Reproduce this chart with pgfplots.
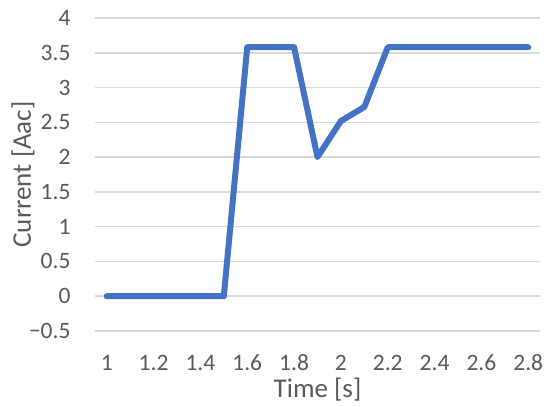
\documentclass[border=0pt]{standalone}
\usepackage{pgfplots}
\pgfplotsset{compat=1.18}
\usepackage{fontspec}
\setmainfont{Carlito}
\definecolor{lineblue}{HTML}{4472C4}
\definecolor{gridgray}{HTML}{D9D9D9}
\definecolor{textgray}{HTML}{595959}
\newcommand\tk[1]{\mbox{\fontsize{23.5}{27}\selectfont\color{textgray}#1}}
\begin{document}
\begin{tikzpicture}
\begin{axis}[
  at={(0,0)}, anchor=south west,
  scale only axis, width=445pt, height=313pt,
  xmin=0.95, xmax=2.85, ymin=-0.5, ymax=4,
  xtick={1,1.2,...,2.8},
  xticklabels={\tk{1},\tk{1.2},\tk{1.4},\tk{1.6},\tk{1.8},\tk{2},\tk{2.2},\tk{2.4},\tk{2.6},\tk{2.8}},
  ytick={-0.5,0,...,4},
  yticklabels={\tk{\textminus0.5},\tk{0},\tk{0.5},\tk{1},\tk{1.5},\tk{2},\tk{2.5},\tk{3},\tk{3.5},\tk{4}},
  axis line style={draw=none},
  major tick length=0pt,
  ymajorgrids, grid style={gridgray, line width=1.5pt},
  xticklabel style={anchor=center, yshift=-32pt},
  yticklabel style={anchor=east, xshift=-21pt},
  label style={font=\fontsize{27}{31}\selectfont, text=textgray},
  xlabel={Time [s]}, ylabel={Current [Aac]},
  xlabel style={at={(axis description cs:0.5,0)}, anchor=center, yshift=-59pt},
  ylabel style={at={(axis description cs:0,0.5)}, anchor=center, yshift=72pt},
  clip=false,
]
\addplot[lineblue, line width=6pt, line join=round, line cap=round] coordinates {
(1,0)(1.1,0)(1.2,0)(1.3,0)(1.4,0)(1.5,0)(1.6,3.58)(1.7,3.58)(1.8,3.58)(1.9,2.0)(2.0,2.52)(2.1,2.72)(2.2,3.58)(2.3,3.58)(2.4,3.58)(2.5,3.58)(2.6,3.58)(2.7,3.58)(2.8,3.58)
};
\end{axis}
\pgfresetboundingbox
\path (-95pt,-76pt) rectangle (455pt,331pt);
\end{tikzpicture}
\end{document}
